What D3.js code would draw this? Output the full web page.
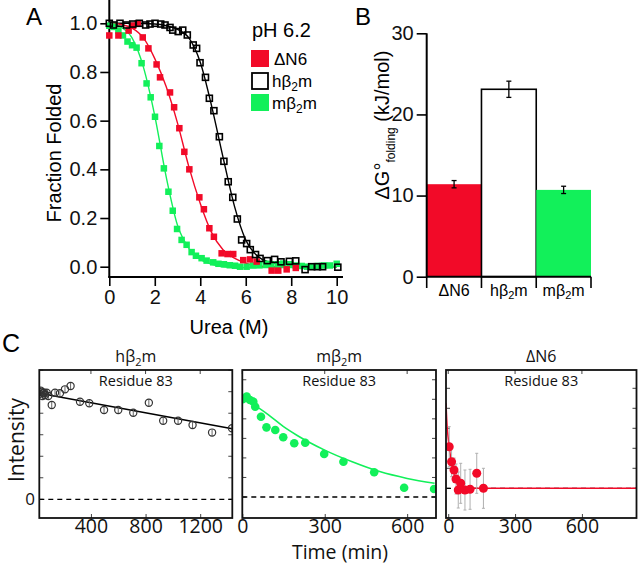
<!DOCTYPE html>
<html><head><meta charset="utf-8">
<script src="https://cdn.jsdelivr.net/npm/d3@7"></script>
<style>html,body{margin:0;padding:0;background:#fff;}svg{display:block;}</style>
</head><body>
<svg id="c" width="638" height="565"></svg>
<script>
// ---------------- DATA ----------------
// Panel A: equilibrium denaturation (Urea M vs fraction folded)
const ureaTicks = [0, 2, 4, 6, 8, 10];
const fracTicks = [0, 0.2, 0.4, 0.6, 0.8, 1.0];
const hUrea = [0,0.18,0.47,0.76,1.03,1.32,1.6,1.79,2.01,2.26,2.45,2.67,2.79,3.03,3.23,3.43,3.69,3.84,3.99,4.23,4.4,4.6,4.84,5.04,5.23,5.43,5.63,5.82,6.04,6.2,6.43,6.63,6.95,7.27,7.55,7.92,8.2,8.61,8.9,9.15,9.38,10.05];
const hFrac = [1.0,0.993,1.0,0.993,0.997,1.0,0.993,0.997,1.0,0.997,0.993,0.983,0.972,0.966,0.972,0.952,0.911,0.897,0.838,0.778,0.692,0.641,0.534,0.433,0.349,0.285,0.196,0.11,0.095,0.07,0.05,0.034,0.025,0.03,0.02,0.022,0.024,-0.012,0.0,0.0,0.0,-0.002];
const dUrea = [0,0.4,0.85,1.05,1.25,1.47,1.72,2.08,2.23,2.67,2.85,3.08,3.3,3.52,3.96,4.16,4.4,4.6,4.94,5.2,5.45,5.89,6.19,6.48,7.14,7.43,7.8,8.2];
const dFrac = [0.95,0.95,0.97,0.99,1.0,0.942,0.897,0.831,0.778,0.716,0.655,0.569,0.472,0.40,0.285,0.236,0.158,0.123,0.055,0.052,0.052,0.027,0.03,0.021,-0.016,-0.016,-0.011,-0.005];
const mUrea = [0,0.2,0.4,0.6,0.8,1.0,1.2,1.42,1.64,1.82,2.01,2.2,2.4,2.6,2.79,2.98,3.18,3.4,3.62,3.81,4.06,4.28,4.57,4.8,5.04,5.3,5.53,5.75,6.04,6.33,6.6,6.9,7.1,7.4,7.65,7.95,8.2,8.46,8.7,8.95,9.2,9.45,9.7,10.0];
const mFrac = [0.99,0.985,0.97,0.95,0.925,0.91,0.9,0.836,0.753,0.696,0.616,0.496,0.404,0.308,0.23,0.155,0.11,0.09,0.06,0.045,0.035,0.025,0.018,0.012,0.01,0.006,0.004,0.0,0.0,0.005,0.006,0.012,0.01,0.01,0.013,0.01,0.005,0.003,0.0,0.0,0.003,0.005,0.005,0.012];
// fitted curves
const hFitU = [0,1,2,2.5,3,3.5,4,4.5,5,5.5,6,6.5,7,8,10];
const hFitF = [1.0,1.0,0.997,0.99,0.975,0.94,0.84,0.66,0.45,0.25,0.11,0.045,0.02,0.008,0.0];
const dFitU = [0,0.5,1,1.5,2,2.5,3,3.5,4,4.5,5,5.5,6,7,10];
const dFitF = [1.0,0.995,0.98,0.94,0.855,0.74,0.59,0.41,0.26,0.14,0.07,0.035,0.015,0.0,0.0];
const mFitU = [0,0.5,1,1.5,2,2.5,3,3.5,4,4.5,5,6,10];
const mFitF = [1.0,0.985,0.94,0.82,0.62,0.37,0.17,0.075,0.03,0.01,0.0,-0.004,0.0];

// Panel B: stability
const variants = ["ΔN6", "hβ2m", "mβ2m"];
const dG = [11.4, 23.1, 10.7];
const dGerr = [0.45, 1.0, 0.45];
const dGTicks = [0, 10, 20, 30];

// Panel C: real-time NMR intensity, residue 83
const hT = [25,32,39,45,51,58,64,76,88,113,137,173,210,251,320,388,496,600,710,824,929,1038,1144,1287,1433];
const hI = [0.98,1.01,1.0,0.96,0.985,0.99,0.969,0.991,0.96,0.876,0.991,0.985,1.022,1.053,0.907,0.892,0.83,0.83,0.805,0.898,0.73,0.73,0.69,0.62,0.66];
const hE = [0.03,0.03,0.03,0.03,0.03,0.03,0.03,0.03,0.03,0.03,0.03,0.03,0.03,0.03,0.03,0.03,0.03,0.03,0.03,0.03,0.03,0.03,0.03,0.03,0.03];
const hFitT = [22, 1435];
const hFitI = [0.985, 0.655];
const hTicks = [400, 800, 1200];

const mT = [1,16,28,40,47,68,88,120,149,189,229,298,368,480,589,698];
const mI = [1.0,1.027,0.993,0.976,0.924,0.822,0.713,0.686,0.611,0.55,0.556,0.44,0.361,0.253,0.095,0.082];
const mE = [0.04,0.04,0.04,0.04,0.04,0.04,0.04,0.04,0.04,0.04,0.04,0.04,0.04,0.04,0.04,0.04];
const mFitT = [0,50,100,150,200,300,400,500,600,700];
const mFitI = [1.0,0.93,0.83,0.72,0.63,0.48,0.36,0.26,0.19,0.14];
const mTicks = [0, 300, 600];

const dT = [4.5,15,26,35,45,56,75,98,128,158];
const dI = [0.416,0.266,0.183,0.093,-0.017,0.05,-0.017,-0.01,0.15,0.0];
const dE = [0.2,0.15,0.12,0.15,0.18,0.2,0.2,0.2,0.2,0.2];
const dFitT = [-10,-5,0,5,10,20,30,40,60,80,120,845];
const dFitI = [0.85,0.62,0.5,0.4,0.32,0.2,0.12,0.07,0.025,0.008,0.0,0.0];
const dTicks = [0, 300, 600];

// ---------------- DRAW ----------------
const RED = "#f20a28", GREEN = "#12f05a";
const svg = d3.select("#c");
const ARIAL = "'Liberation Sans', Arial, sans-serif";
const OPEN = "'Open Sans', 'Noto Sans', sans-serif";

function sub(t, main, s, rest, mainSize, subSize) {
  t.append("tspan").text(main);
  t.append("tspan").attr("font-size", subSize).attr("dy", subSize*0.35).text(s);
  t.append("tspan").attr("dy", -subSize*0.35).text(rest);
}

// ===== Panel A =====
const gA = svg.append("g").attr("font-family", ARIAL);
svg.append("text").attr("x", 26).attr("y", 25).attr("font-family", ARIAL).attr("font-size", 24).text("A");
const xA = d3.scaleLinear([0, 10], [109.3, 336.7]);
const yA = d3.scaleLinear([0, 1], [266.7, 23.3]);
const axL = gA.append("g").attr("transform", "translate(109.3,0)")
  .call(d3.axisLeft(yA).tickValues(fracTicks).tickFormat(d3.format(".1f")).tickSize(9).tickPadding(3));
const axB = gA.append("g").attr("transform", "translate(0,277)")
  .call(d3.axisBottom(xA).tickValues(ureaTicks).tickSize(9).tickPadding(4));
[axL, axB].forEach(a => { a.select(".domain").remove(); a.selectAll("text").attr("font-size", 20).attr("font-family", ARIAL).attr("fill", "#111");
  a.selectAll("line").attr("stroke", "#000").attr("stroke-width", 1.6); });
gA.append("line").attr("x1", 109.3).attr("x2", 109.3).attr("y1", 0).attr("y2", 277.8).attr("stroke", "#000").attr("stroke-width", 2);
gA.append("line").attr("x1", 108.3).attr("x2", 343).attr("y1", 277).attr("y2", 277).attr("stroke", "#000").attr("stroke-width", 2);
gA.append("text").attr("x", 229).attr("y", 334).attr("text-anchor", "middle").attr("font-size", 20).text("Urea (M)");
gA.append("text").attr("transform", "translate(61,153) rotate(-90)").attr("text-anchor", "middle").attr("font-size", 20).text("Fraction Folded");

const lineA = d3.line().x(d => xA(d[0])).y(d => yA(d[1])).curve(d3.curveMonotoneX);
gA.append("path").attr("d", lineA(d3.zip(hFitU, hFitF))).attr("fill", "none").attr("stroke", "#000").attr("stroke-width", 1.4);
gA.append("path").attr("d", lineA(d3.zip(dFitU, dFitF))).attr("fill", "none").attr("stroke", RED).attr("stroke-width", 1.4);
gA.append("path").attr("d", lineA(d3.zip(mFitU, mFitF))).attr("fill", "none").attr("stroke", GREEN).attr("stroke-width", 1.4);
const sq = 6.5;
gA.append("g").selectAll("rect").data(d3.zip(mUrea, mFrac)).join("rect")
  .attr("x", d => xA(d[0]) - sq/2).attr("y", d => yA(d[1]) - sq/2).attr("width", sq).attr("height", sq).attr("fill", GREEN);
gA.append("g").selectAll("rect").data(d3.zip(dUrea, dFrac)).join("rect")
  .attr("x", d => xA(d[0]) - sq/2).attr("y", d => yA(d[1]) - sq/2).attr("width", sq).attr("height", sq).attr("fill", RED);
gA.append("g").selectAll("rect").data(d3.zip(hUrea, hFrac)).join("rect")
  .attr("x", d => xA(d[0]) - 3).attr("y", d => yA(d[1]) - 3).attr("width", 6).attr("height", 6)
  .attr("fill", "none").attr("stroke", "#000").attr("stroke-width", 1.6);
// legend
gA.append("text").attr("x", 252).attr("y", 37).attr("font-size", 20).text("pH 6.2");
gA.append("rect").attr("x", 251).attr("y", 50).attr("width", 18).attr("height", 17).attr("fill", RED);
gA.append("rect").attr("x", 252).attr("y", 73).attr("width", 16).attr("height", 16).attr("fill", "none").attr("stroke", "#000").attr("stroke-width", 1.8);
gA.append("rect").attr("x", 251).attr("y", 94).attr("width", 18).attr("height", 17).attr("fill", GREEN);
gA.append("text").attr("x", 274).attr("y", 64.5).attr("font-size", 17).text("ΔN6");
sub(gA.append("text").attr("x", 272).attr("y", 87).attr("font-size", 17), "hβ", "2", "m", 17, 12);
sub(gA.append("text").attr("x", 272).attr("y", 108.5).attr("font-size", 17), "mβ", "2", "m", 17, 12);

// ===== Panel B =====
const gB = svg.append("g").attr("font-family", ARIAL);
svg.append("text").attr("x", 355).attr("y", 25).attr("font-family", ARIAL).attr("font-size", 24).text("B");
const xB = d3.scaleBand(variants, [426.7, 591]).padding(0);
const yB = d3.scaleLinear([0, 30], [276.7, 33.3]);
const barFill = [RED, "#fff", GREEN];
gB.selectAll("rect.bar").data(variants).join("rect").attr("class", "bar")
  .attr("x", d => xB(d)).attr("width", xB.bandwidth())
  .attr("y", (d, i) => yB(dG[i])).attr("height", (d, i) => yB(0) - yB(dG[i]))
  .attr("fill", (d, i) => barFill[i])
  .attr("stroke", (d, i) => i === 1 ? "#000" : "none").attr("stroke-width", 1.6);
const eb = gB.selectAll("g.eb").data(variants).join("g").attr("class", "eb");
eb.append("line").attr("x1", d => xB(d) + xB.bandwidth()/2).attr("x2", d => xB(d) + xB.bandwidth()/2)
  .attr("y1", (d, i) => yB(dG[i] + dGerr[i])).attr("y2", (d, i) => yB(dG[i] - dGerr[i])).attr("stroke", "#000").attr("stroke-width", 1.3);
[1, -1].forEach(s => eb.append("line").attr("x1", d => xB(d) + xB.bandwidth()/2 - 2.5).attr("x2", d => xB(d) + xB.bandwidth()/2 + 2.5)
  .attr("y1", (d, i) => yB(dG[i] + s*dGerr[i])).attr("y2", (d, i) => yB(dG[i] + s*dGerr[i])).attr("stroke", "#000").attr("stroke-width", 1.3));
const axBL = gB.append("g").attr("transform", "translate(426.7,0)")
  .call(d3.axisLeft(yB).tickValues(dGTicks).tickSize(10).tickPadding(3));
axBL.select(".domain").remove();
axBL.selectAll("text").attr("font-size", 20).attr("font-family", ARIAL).attr("fill", "#111");
axBL.selectAll("line").attr("stroke", "#000").attr("stroke-width", 1.6);
gB.append("line").attr("x1", 426.7).attr("x2", 426.7).attr("y1", 33.3).attr("y2", 277.5).attr("stroke", "#000").attr("stroke-width", 2);
gB.append("line").attr("x1", 426).attr("x2", 591).attr("y1", 276.7).attr("y2", 276.7).attr("stroke", "#000").attr("stroke-width", 2);
const edges = variants.map(v => xB(v)).concat([xB(variants[2]) + xB.bandwidth()]);
gB.selectAll("line.sep").data(edges).join("line").attr("class", "sep")
  .attr("x1", d => d).attr("x2", d => d).attr("y1", 276.7).attr("y2", 288).attr("stroke", "#000").attr("stroke-width", 1.6);
gB.selectAll("text.cat").data(variants).join("text").attr("class", "cat")
  .attr("x", d => xB(d) + xB.bandwidth()/2).attr("y", 295.5).attr("text-anchor", "middle").attr("font-size", 16)
  .each(function(d) {
    const t = d3.select(this);
    if (d === "ΔN6") t.text(d);
    else sub(t, d.slice(0, 2), "2", "m", 16, 11);
  });
const yl = gB.append("text").attr("transform", "translate(389,125) rotate(-90)").attr("text-anchor", "middle").attr("font-size", 20);
yl.append("tspan").text("ΔG°");
yl.append("tspan").attr("font-size", 12).attr("dy", 6).text("folding");
yl.append("tspan").attr("dy", -6).text(" (kJ/mol)");

// ===== Panel C =====
svg.append("text").attr("x", 2).attr("y", 352).attr("font-family", ARIAL).attr("font-size", 25).text("C");
const cTop = 370, cBot = 518;
function panel(cfg) {
  const g = svg.append("g").attr("font-family", OPEN);
  const x = d3.scaleLinear(cfg.xd, [cfg.x0, cfg.x1]);
  const y = d3.scaleLinear([0, 1], [cfg.zero, cfg.zero - cfg.k]);
  const yhi = y.invert(cTop);
  const clip = "clip" + cfg.id;
  g.append("clipPath").attr("id", clip).append("rect").attr("x", cfg.x0).attr("y", cTop).attr("width", cfg.x1 - cfg.x0).attr("height", cBot - cTop);
  const yt = d3.range(0, yhi, 0.2);
  const tk = g.append("g").attr("stroke", "#444").attr("stroke-width", 1);
  yt.forEach(v => { tk.append("line").attr("x1", cfg.x0).attr("x2", cfg.x0 + 4).attr("y1", y(v)).attr("y2", y(v));
                    tk.append("line").attr("x1", cfg.x1).attr("x2", cfg.x1 - 4).attr("y1", y(v)).attr("y2", y(v)); });
  const ax = g.append("g").attr("transform", `translate(0,${cBot})`)
    .call(d3.axisBottom(x).tickValues(cfg.ticks).tickFormat(d3.format("d")).tickSize(-4).tickPadding(1).tickSizeOuter(0));
  ax.select(".domain").remove();
  ax.selectAll("text").attr("font-size", 19.5).attr("font-family", OPEN).attr("fill", "#111").attr("dy", "0.71em");
  ax.selectAll("line").attr("stroke", "#444");
  cfg.ticks.forEach(v => tk.append("line").attr("x1", x(v)).attr("x2", x(v)).attr("y1", cTop).attr("y2", cTop + 4));
  const pc = g.append("g").attr("clip-path", `url(#${clip})`);
  pc.append("line").attr("x1", cfg.x0).attr("x2", cfg.x1).attr("y1", y(0)).attr("y2", y(0))
    .attr("stroke", "#000").attr("stroke-width", 1.3).attr("stroke-dasharray", "5,4");
  const ln = d3.line().x(d => x(d[0])).y(d => y(d[1])).curve(d3.curveMonotoneX);
  pc.append("path").attr("d", ln(d3.zip(cfg.fitT, cfg.fitI))).attr("fill", "none").attr("stroke", cfg.lineColor).attr("stroke-width", cfg.lw);
  const pts = d3.zip(cfg.t, cfg.v, cfg.e);
  pc.append("g").selectAll("line").data(pts).join("line")
    .attr("x1", d => x(d[0])).attr("x2", d => x(d[0])).attr("y1", d => y(d[1] - d[2])).attr("y2", d => y(d[1] + d[2]))
    .attr("stroke", cfg.errColor).attr("stroke-width", 1);
  if (cfg.caps) {
    [1, -1].forEach(s => pc.append("g").selectAll("line").data(pts).join("line")
      .attr("x1", d => x(d[0]) - 1.5).attr("x2", d => x(d[0]) + 1.5).attr("y1", d => y(d[1] + s*d[2])).attr("y2", d => y(d[1] + s*d[2]))
      .attr("stroke", cfg.errColor).attr("stroke-width", 1));
  }
  pc.append("g").selectAll("circle").data(pts).join("circle")
    .attr("cx", d => x(d[0])).attr("cy", d => y(d[1])).attr("r", cfg.r)
    .attr("fill", cfg.fill).attr("stroke", cfg.stroke).attr("stroke-width", cfg.sw);
  g.append("rect").attr("x", cfg.x0).attr("y", cTop).attr("width", cfg.x1 - cfg.x0).attr("height", cBot - cTop)
    .attr("fill", "none").attr("stroke", "#111").attr("stroke-width", 1.8);
  const cx = (cfg.x0 + cfg.x1) / 2;
  g.append("text").attr("x", cx).attr("y", 386).attr("text-anchor", "middle").attr("font-size", 14.5).attr("fill", "#111").text("Residue 83");
  const tt = g.append("text").attr("x", cx).attr("y", 362).attr("text-anchor", "middle").attr("font-size", 16).attr("fill", "#111");
  if (cfg.title === "ΔN6") tt.text("ΔN6"); else sub(tt, cfg.title.slice(0, 2), "2", "m", 16, 11);
  return {x, y, g};
}
const pH = panel({id: "h", x0: 39.3, x1: 232.3, xd: [22, 1435], zero: 499.3, k: 107.6, ticks: hTicks,
  t: hT, v: hI, e: hE, fitT: hFitT, fitI: hFitI, lineColor: "#000", lw: 1.5, errColor: "#666", caps: false,
  r: 3.6, fill: "none", stroke: "#333", sw: 1.2, title: "hβ2m"});
const pM = panel({id: "m", x0: 242.3, x1: 436, xd: [0, 705], zero: 497, k: 97.7, ticks: mTicks,
  t: mT, v: mI, e: mE, fitT: mFitT, fitI: mFitI, lineColor: GREEN, lw: 1.6, errColor: "#8ccf9c", caps: false,
  r: 4.3, fill: GREEN, stroke: "none", sw: 0, title: "mβ2m"});
const pD = panel({id: "d", x0: 446, x1: 636.5, xd: [-10, 845], zero: 488.3, k: 100, ticks: dTicks,
  t: dT, v: dI, e: dE, fitT: dFitT, fitI: dFitI, lineColor: RED, lw: 1.5, errColor: "#b0b0b0", caps: true,
  r: 4.5, fill: RED, stroke: "none", sw: 0, title: "ΔN6"});
svg.append("text").attr("x", 35).attr("y", pH.y(0)).attr("dy", "0.35em").attr("text-anchor", "end")
  .attr("font-family", OPEN).attr("font-size", 17).attr("fill", "#111").text("0");
svg.append("text").attr("transform", "translate(24,440) rotate(-90)").attr("text-anchor", "middle")
  .attr("font-family", OPEN).attr("font-size", 21).attr("fill", "#111").text("Intensity");
svg.append("text").attr("x", 340).attr("y", 559).attr("text-anchor", "middle")
  .attr("font-family", OPEN).attr("font-size", 19.5).attr("fill", "#111").text("Time (min)");
</script>
</body></html>
